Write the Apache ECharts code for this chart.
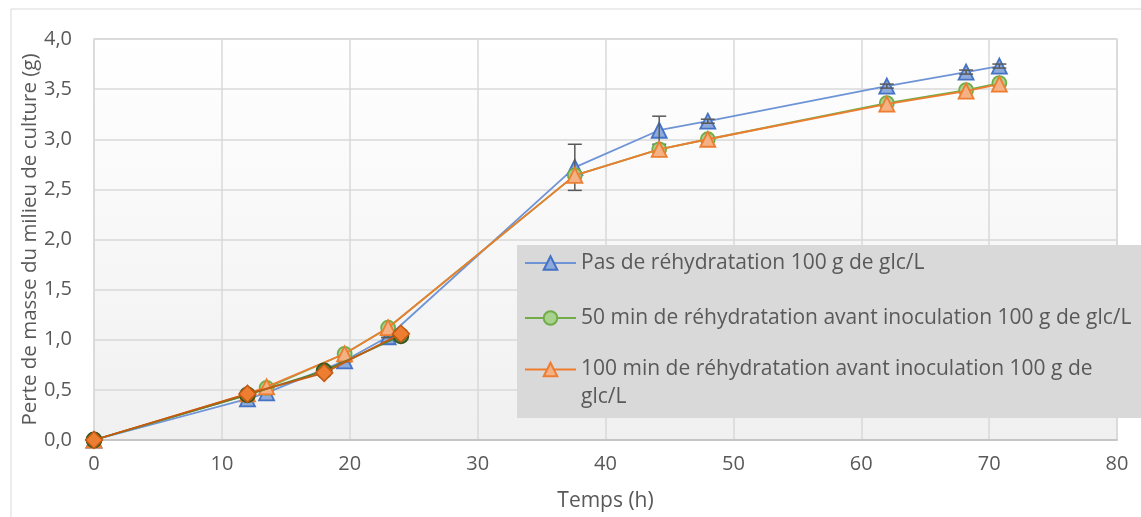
<!DOCTYPE html>
<html lang="fr">
<head>
    <meta charset="UTF-8">
    <title>Perte de masse</title>
    <style>
        html, body { margin: 0; padding: 0; background: #fff; }
        #chart { width: 1141px; height: 517px; }
    </style>
</head>
<body>
<div id="chart"></div>
<script src="https://cdn.jsdelivr.net/npm/echarts@6/dist/echarts.min.js"></script>
<script>
    // temps de prélèvement (h)
    var tempsPrincipal = [0, 12, 13.5, 19.6, 23, 37.6, 44.2, 48, 62, 68.2, 70.8];
    var pasRehydratation = [0, 0.41, 0.47, 0.79, 1.03, 2.72, 3.09, 3.18, 3.53, 3.67, 3.73];
    var pasRehydratationErr = [0, 0.01, 0.01, 0.01, 0.01, 0.23, 0.14, 0.02, 0.02, 0.02, 0.02];
    var rehydratation50 = [0, 0.45, 0.52, 0.86, 1.12, 2.64, 2.90, 3.00, 3.36, 3.49, 3.56];
    var rehydratation100 = [0, 0.46, 0.53, 0.86, 1.12, 2.64, 2.90, 3.00, 3.35, 3.48, 3.55];
    // points supplémentaires (hors légende)
    var tempsSupp = [0, 12, 18, 24];
    var suppCercles = [0, 0.45, 0.69, 1.04];
    var suppLosanges = [0, 0.46, 0.67, 1.06];

    var xTicks = [0, 10, 20, 30, 40, 50, 60, 70, 80];

    var nom1 = 'Pas de réhydratation 100 g de glc/L',
        nom2 = '50 min de réhydratation avant inoculation 100 g de glc/L',
        nom3 = '100 min de réhydratation avant inoculation 100 g de glc/L';

    var police = '"Open Sans", sans-serif',
        gris = '#595959',
        grille = '#d9d9d9';

    function paires(xs, ys) {
        return xs.map(function (x, i) { return [x, ys[i]]; });
    }

    var erreurs = tempsPrincipal.map(function (t, i) {
        return [t, pasRehydratation[i], pasRehydratationErr[i]];
    });

    var option = {
        backgroundColor: '#fff',
        animation: false,
        textStyle: { fontFamily: police, color: gris },
        graphic: [
            {
                type: 'rect', z: -10, silent: true,
                shape: { x: 11, y: 9, width: 1200, height: 600 },
                style: { fill: 'none', stroke: grille, lineWidth: 1 }
            },
            {
                type: 'rect', z: 50, silent: true,
                shape: { x: 517, y: 245, width: 640, height: 173 },
                style: { fill: '#d9d9d9' }
            }
        ],
        grid: {
            left: 94, right: 24, top: 39, bottom: 77,
            outerBoundsMode: 'none',
            show: true,
            borderColor: grille,
            borderWidth: 1.5,
            backgroundColor: {
                type: 'linear', x: 0, y: 0, x2: 0, y2: 1,
                colorStops: [{ offset: 0, color: '#ffffff' }, { offset: 1, color: '#f0f0f0' }]
            }
        },
        legend: [
            {
                data: [nom1, nom2],
                orient: 'vertical',
                left: 524, top: 251,
                padding: 0,
                itemWidth: 51, itemHeight: 17,
                itemGap: 31,
                selectedMode: false,
                z: 60,
                textStyle: { fontFamily: police, fontSize: 21, color: gris, lineHeight: 24 }
            },
            {
                data: [nom3],
                orient: 'vertical',
                left: 524, top: 331,
                padding: 0,
                itemWidth: 51, itemHeight: 17,
                selectedMode: false,
                z: 60,
                formatter: function () {
                    return '{s| }\n{t|100 min de réhydratation avant inoculation 100 g de}\n{t|glc/L}';
                },
                textStyle: {
                    fontFamily: police, fontSize: 21, color: gris,
                    rich: {
                        s: { fontSize: 21, lineHeight: 28, fontFamily: police },
                        t: { fontSize: 21, lineHeight: 28, fontFamily: police, color: gris }
                    }
                }
            }
        ],
        xAxis: {
            type: 'value',
            min: 0, max: 80, interval: 10,
            name: 'Temps (h)',
            nameLocation: 'middle',
            nameGap: 51,
            nameMoveOverlap: false,
            nameTextStyle: { fontFamily: police, fontSize: 21, color: gris },
            axisLine: { show: true, lineStyle: { color: '#bfbfbf', width: 1.5 } },
            axisTick: { show: false },
            axisLabel: {
                fontFamily: police, fontSize: 20, color: gris, margin: 14,
                customValues: xTicks
            },
            splitLine: { show: true, lineStyle: { color: grille, width: 1.5 } }
        },
        yAxis: {
            type: 'value',
            min: 0, max: 4, interval: 0.5,
            name: 'Perte de masse du milieu de culture (g)',
            nameLocation: 'middle',
            nameGap: 53,
            nameMoveOverlap: false,
            nameTextStyle: { fontFamily: police, fontSize: 20.5, color: gris },
            axisLine: { show: false },
            axisTick: { show: false },
            axisLabel: {
                fontFamily: police, fontSize: 20, color: gris, margin: 22,
                formatter: function (v) { return v.toFixed(1).replace('.', ','); }
            },
            splitLine: { show: true, lineStyle: { color: grille, width: 1.5 } }
        },
        series: [
            {
                name: nom1,
                type: 'line',
                data: paires(tempsPrincipal, pasRehydratation),
                symbol: 'triangle',
                symbolSize: 15,
                lineStyle: { color: '#6f94d6', width: 1.8 },
                itemStyle: { color: '#8eaadc', borderColor: '#4472c4', borderWidth: 1.8 },
                z: 2
            },
            {
                name: 'erreur',
                type: 'custom',
                data: erreurs,
                encode: { x: 0, y: 1 },
                z: 3,
                renderItem: function (params, api) {
                    var x = api.value(0), y = api.value(1), e = api.value(2);
                    if (!e) return;
                    var haut = api.coord([x, y + e]);
                    var bas = api.coord([x, y - e]);
                    var w = 7;
                    var st = { stroke: '#595959', lineWidth: 1.5 };
                    return {
                        type: 'group',
                        children: [
                            { type: 'line', shape: { x1: haut[0], y1: haut[1], x2: bas[0], y2: bas[1] }, style: st },
                            { type: 'line', shape: { x1: haut[0] - w, y1: haut[1], x2: haut[0] + w, y2: haut[1] }, style: st },
                            { type: 'line', shape: { x1: bas[0] - w, y1: bas[1], x2: bas[0] + w, y2: bas[1] }, style: st }
                        ]
                    };
                }
            },
            {
                name: nom2,
                type: 'line',
                data: paires(tempsPrincipal, rehydratation50),
                symbol: 'circle',
                symbolSize: 14,
                lineStyle: { color: '#70ad47', width: 1.8 },
                itemStyle: { color: '#a9d18e', borderColor: '#70ad47', borderWidth: 1.8 },
                z: 4
            },
            {
                name: nom3,
                type: 'line',
                data: paires(tempsPrincipal, rehydratation100),
                symbol: 'triangle',
                symbolSize: 15,
                lineStyle: { color: '#ed7d31', width: 1.8 },
                itemStyle: { color: '#f4b183', borderColor: '#ed7d31', borderWidth: 1.8 },
                z: 5
            },
            {
                name: 'cercles',
                type: 'line',
                data: paires(tempsSupp, suppCercles),
                symbol: 'circle',
                symbolSize: 15,
                lineStyle: { color: '#548235', width: 1.8 },
                itemStyle: { color: '#548235', borderColor: '#375623', borderWidth: 1.8 },
                z: 6
            },
            {
                name: 'losanges',
                type: 'line',
                data: paires(tempsSupp, suppLosanges),
                symbol: 'diamond',
                symbolSize: 17,
                lineStyle: { color: '#c55a11', width: 1.8 },
                itemStyle: { color: '#ed7d31', borderColor: '#c55a11', borderWidth: 1.5 },
                z: 7
            }
        ]
    };

    var chart = echarts.init(document.getElementById('chart'));
    chart.setOption(option);
</script>
</body>
</html>
